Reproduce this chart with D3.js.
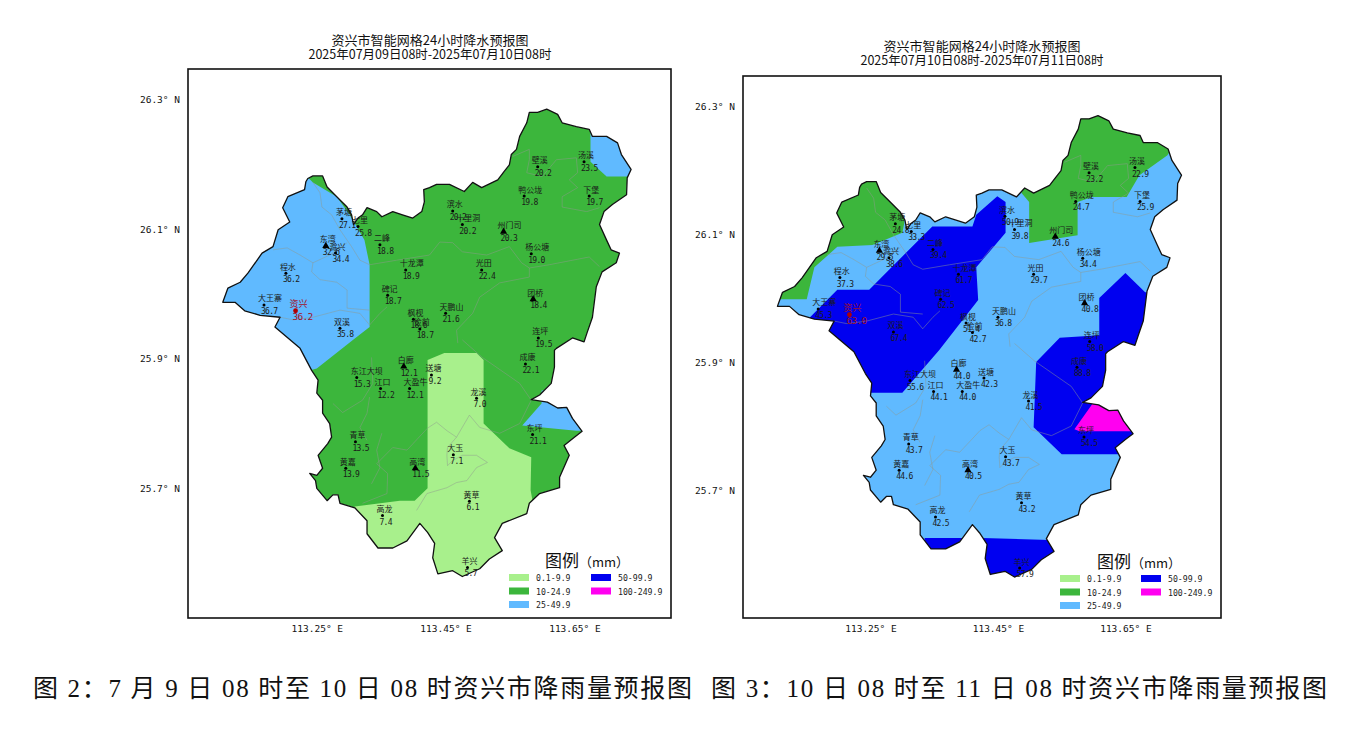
<!DOCTYPE html>
<html>
<head>
<meta charset="utf-8">
<script src="https://d3js.org/d3.v7.min.js"></script>
<style>
  body { margin: 0; background: #fff; }
  text { font-family: "Noto Sans CJK SC", sans-serif; }
  .num { font-family: "DejaVu Sans Mono", monospace; }
</style>
</head>
<body>
<svg id="chart" width="1348" height="737"></svg>
<script>
// County outline, lon/lat, clockwise from the north-west tip
const countyOutline = [[113.236,26.178],[113.244,26.182],[113.259,26.182],[113.266,26.165],[113.281,26.150],[113.297,26.134],[113.304,26.122],[113.307,26.107],[113.314,26.117],[113.321,26.122],[113.328,26.133],[113.343,26.127],[113.351,26.119],[113.368,26.127],[113.383,26.122],[113.399,26.117],[113.413,26.127],[113.417,26.142],[113.416,26.161],[113.425,26.164],[113.436,26.169],[113.456,26.169],[113.479,26.158],[113.492,26.172],[113.506,26.164],[113.531,26.176],[113.541,26.189],[113.549,26.199],[113.552,26.215],[113.560,26.223],[113.565,26.243],[113.576,26.264],[113.580,26.280],[113.593,26.280],[113.607,26.285],[113.624,26.277],[113.631,26.264],[113.653,26.258],[113.673,26.254],[113.678,26.243],[113.700,26.243],[113.717,26.233],[113.723,26.215],[113.738,26.192],[113.732,26.179],[113.731,26.153],[113.709,26.138],[113.696,26.127],[113.689,26.107],[113.700,26.083],[113.707,26.068],[113.720,26.063],[113.715,26.048],[113.693,26.034],[113.684,26.011],[113.678,25.964],[113.670,25.941],[113.665,25.926],[113.647,25.932],[113.622,25.916],[113.619,25.913],[113.619,25.887],[113.614,25.862],[113.596,25.844],[113.583,25.837],[113.608,25.833],[113.624,25.824],[113.638,25.825],[113.647,25.808],[113.662,25.788],[113.650,25.779],[113.634,25.766],[113.642,25.751],[113.627,25.717],[113.627,25.701],[113.596,25.692],[113.580,25.677],[113.576,25.661],[113.538,25.646],[113.526,25.624],[113.538,25.604],[113.518,25.591],[113.503,25.576],[113.476,25.564],[113.461,25.573],[113.438,25.568],[113.430,25.593],[113.433,25.615],[113.422,25.632],[113.410,25.646],[113.390,25.619],[113.368,25.608],[113.345,25.608],[113.328,25.630],[113.328,25.650],[113.309,25.670],[113.286,25.677],[113.283,25.690],[113.275,25.690],[113.266,25.681],[113.250,25.700],[113.248,25.712],[113.239,25.723],[113.250,25.720],[113.259,25.731],[113.252,25.751],[113.267,25.769],[113.273,25.779],[113.270,25.800],[113.259,25.816],[113.259,25.836],[113.250,25.847],[113.252,25.867],[113.242,25.882],[113.224,25.916],[113.185,25.949],[113.193,25.964],[113.162,25.967],[113.138,25.974],[113.123,25.987],[113.104,25.987],[113.112,26.009],[113.131,26.018],[113.143,26.032],[113.165,26.063],[113.182,26.073],[113.190,26.099],[113.208,26.111],[113.197,26.133],[113.205,26.150],[113.231,26.161],[113.233,26.173]];

// Township boundaries (the thin grey lines)
const townshipLines = [
  [[113.244,26.172],[113.255,26.156],[113.258,26.134],[113.273,26.122],[113.286,26.099],[113.297,26.083],[113.304,26.073],[113.317,26.052],[113.332,26.045]],
  [[113.182,26.068],[113.204,26.071],[113.224,26.060],[113.244,26.048],[113.270,26.060],[113.297,26.079]],
  [[113.244,26.048],[113.242,26.034],[113.255,26.022],[113.281,26.018],[113.297,26.006],[113.297,25.978],[113.332,25.975]],
  [[113.193,25.964],[113.213,25.960],[113.244,25.964],[113.286,25.975],[113.317,25.970],[113.332,25.952],[113.348,25.970],[113.359,25.980]],
  [[113.332,26.045],[113.374,26.052],[113.425,26.060],[113.441,26.080],[113.461,26.079],[113.476,26.065],[113.514,26.060],[113.549,26.073],[113.568,26.048],[113.580,26.040],[113.611,26.045],[113.673,26.057],[113.689,26.042]],
  [[113.580,26.040],[113.580,26.026],[113.534,26.017],[113.503,25.995],[113.492,25.970],[113.467,25.944],[113.469,25.924]],
  [[113.554,26.212],[113.580,26.223],[113.580,26.207],[113.576,26.187],[113.600,26.181],[113.622,26.207],[113.653,26.210],[113.655,26.187],[113.642,26.176],[113.655,26.164],[113.631,26.150],[113.631,26.134],[113.669,26.127],[113.689,26.133]],
  [[113.405,25.666],[113.421,25.692],[113.452,25.701],[113.467,25.709],[113.483,25.712],[113.498,25.732],[113.515,25.740],[113.498,25.751],[113.476,25.751],[113.461,25.743],[113.453,25.735],[113.452,25.751],[113.453,25.763],[113.467,25.779],[113.487,25.813],[113.503,25.794],[113.534,25.785],[113.565,25.800],[113.583,25.836]],
  [[113.467,25.779],[113.452,25.789],[113.436,25.802],[113.422,25.793],[113.390,25.759],[113.368,25.763],[113.343,25.738],[113.360,25.723],[113.359,25.692],[113.321,25.677]],
  [[113.335,25.902],[113.337,25.862],[113.321,25.836],[113.290,25.817],[113.275,25.831]],
  [[113.476,25.929],[113.507,25.902],[113.565,25.862],[113.583,25.836]],
  [[113.332,25.841],[113.328,25.816],[113.317,25.794],[113.328,25.774]],
  [[113.351,25.785],[113.343,25.759],[113.348,25.732],[113.335,25.707]]
];

// Rain zones, by legend class (they run past the outline and get clipped to it)
const day1BlueWest = [[113.069,26.192],[113.224,26.192],[113.244,26.172],[113.281,26.150],[113.301,26.122],[113.324,26.083],[113.332,26.045],[113.332,25.949],[113.306,25.929],[113.250,25.885],[113.069,25.836]];
const day1BlueNorth = [[113.675,26.269],[113.675,26.204],[113.700,26.181],[113.766,26.181],[113.766,26.269]];
const day1BlueEast = [[113.599,25.851],[113.599,25.831],[113.569,25.797],[113.653,25.789],[113.689,25.789],[113.689,25.851]];
const day1Light = [[113.422,25.898],[113.448,25.909],[113.498,25.909],[113.509,25.898],[113.509,25.800],[113.549,25.762],[113.583,25.748],[113.582,25.697],[113.585,25.681],[113.585,25.526],[113.286,25.526],[113.309,25.672],[113.379,25.681],[113.402,25.681],[113.422,25.700]];

const day2GreenWest = [[113.115,25.998],[113.150,25.998],[113.162,26.048],[113.198,26.080],[113.253,26.083],[113.300,26.102],[113.303,26.117],[113.303,26.231],[113.139,26.231],[113.076,25.998]];
const day2GreenNorth = [[113.487,26.164],[113.499,26.150],[113.499,26.086],[113.575,26.098],[113.575,26.150],[113.598,26.158],[113.652,26.158],[113.672,26.192],[113.716,26.223],[113.751,26.278],[113.609,26.325],[113.487,26.231]];
const day2NavyBand = [[113.347,26.112],[113.410,26.112],[113.416,26.130],[113.449,26.159],[113.462,26.150],[113.462,26.102],[113.416,26.048],[113.419,25.997],[113.358,25.919],[113.300,25.852],[113.201,25.852],[113.123,25.934],[113.154,25.969],[113.198,26.013],[113.248,26.013]];
const day2NavyEast = [[113.609,26.000],[113.650,26.039],[113.681,26.009],[113.719,26.009],[113.719,25.756],[113.550,25.756],[113.506,25.798],[113.510,25.900],[113.547,25.938],[113.609,25.942]];
const day2NavySouthA = [[113.335,25.625],[113.396,25.625],[113.396,25.559],[113.335,25.559]];
const day2NavySouthB = [[113.426,25.625],[113.531,25.622],[113.578,25.622],[113.578,25.528],[113.390,25.528]];
const day2Magenta = [[113.570,25.795],[113.597,25.833],[113.606,25.848],[113.672,25.848],[113.672,25.792],[113.578,25.792]];

// Stations
const stationNames = ["茅塘","七里","二峰","东湾","滁兴","程水","大王寨","资兴","双溪","十龙潭","碑记","枫枧","俭前","壁溪","汤溪","鸭公垅","下堡","滨水","十里洞","州门司","杨公塘","光田","团桥","天鹏山","连坪","成康","白廊","东江大坝","送塘","江口","大盈牛","龙溪","东坪","青草","大玉","黄嘉","高湾","黄草","高龙","羊兴"];
const stationLon = [113.289,113.314,113.348,113.264,113.279,113.202,113.168,113.217,113.286,113.388,113.360,113.400,113.410,113.593,113.665,113.572,113.673,113.461,113.476,113.540,113.583,113.506,113.586,113.450,113.594,113.574,113.385,113.312,113.428,113.349,113.394,113.498,113.585,113.310,113.462,113.295,113.403,113.487,113.352,113.484];
const stationLat = [26.116,26.104,26.076,26.074,26.063,26.032,25.983,25.974,25.947,26.037,25.998,25.961,25.946,26.196,26.204,26.151,26.151,26.128,26.107,26.096,26.062,26.037,25.992,25.970,25.932,25.892,25.888,25.871,25.875,25.854,25.854,25.839,25.783,25.772,25.752,25.731,25.731,25.680,25.658,25.578];
const day1Values = [27.1,25.8,18.8,32.6,34.4,36.2,36.7,36.2,35.8,18.9,18.7,18.6,18.7,20.2,23.5,19.8,19.7,20.2,20.2,20.3,19.0,22.4,18.4,21.6,19.5,22.1,12.1,15.3,9.2,12.2,12.1,7.0,21.1,13.5,7.1,13.9,11.5,6.1,7.4,5.7];
const day2Values = [24.8,33.3,39.4,29.5,38.6,37.3,45.3,63.0,67.4,61.7,62.5,51.4,42.7,23.2,22.9,24.7,25.9,50.9,39.8,24.6,34.4,29.7,40.8,36.8,58.0,88.8,44.0,55.6,42.3,44.1,44.0,41.5,54.5,43.7,43.7,44.6,40.5,43.2,42.5,57.9];
const triangleStations = ["东湾","州门司","团桥","白廊","高湾"];
const cityStation = "资兴";

// Legend and axes
const legendLabels = ["0.1-9.9","10-24.9","25-49.9","50-99.9","100-249.9"];
const legendColors = ["#a8f08c","#3cb63c","#60baff","#0000f0","#ff00f0"];
const lonTicks = [113.25,113.45,113.65];
const latTicks = [25.7,25.9,26.1,26.3];
const lonExtent = [113.05,113.80];
const latExtent = [25.5,26.347];

const panels = [
  { title: "2025年07月09日08时-2025年07月10日08时", left: 188, right: 671, top: 69, bottom: 618,
    titleX: 430, titleY: 45, values: day1Values, base: 1,
    zones: [[2,day1BlueWest],[2,day1BlueNorth],[2,day1BlueEast],[0,day1Light]],
    legendX: [509,591], legendTop: 574, legendTitleX: 545, legendTitleY: 567 },
  { title: "2025年07月10日08时-2025年07月11日08时", left: 743, right: 1221, top: 76, bottom: 618,
    titleX: 982, titleY: 51, values: day2Values, base: 2,
    zones: [[1,day2GreenWest],[1,day2GreenNorth],[3,day2NavyBand],[3,day2NavyEast],[3,day2NavySouthA],[3,day2NavySouthB],[4,day2Magenta]],
    legendX: [1060,1141], legendTop: 575, legendTitleX: 1097, legendTitleY: 568 }
];

const svg = d3.select("#chart");

panels.forEach((p, i) => {
  const x = d3.scaleLinear().domain(lonExtent).range([p.left, p.right]);
  const y = d3.scaleLinear().domain(latExtent).range([p.bottom, p.top]);
  const line = d3.line().x(d => x(d[0])).y(d => y(d[1]));
  const g = svg.append("g");

  // Clip everything inside the county
  g.append("clipPath").attr("id", "county" + i)
    .append("path").attr("d", line(countyOutline) + "Z");

  g.append("rect")
    .attr("x", p.left).attr("y", p.top)
    .attr("width", p.right - p.left).attr("height", p.bottom - p.top)
    .attr("fill", "#fff").attr("stroke", "#111").attr("stroke-width", 1.6);

  const map = g.append("g").attr("clip-path", "url(#county" + i + ")");
  map.append("path").attr("d", line(countyOutline) + "Z").attr("fill", legendColors[p.base]);
  p.zones.forEach(z => {
    map.append("path").attr("d", line(z[1]) + "Z").attr("fill", legendColors[z[0]]);
  });
  townshipLines.forEach(l => {
    map.append("path").attr("d", line(l)).attr("fill", "none")
      .attr("stroke", "#8f9a90").attr("stroke-opacity", 0.6).attr("stroke-width", 0.8);
  });

  g.append("path").attr("d", line(countyOutline) + "Z")
    .attr("fill", "none").attr("stroke", "#111").attr("stroke-width", 1.3)
    .attr("stroke-linejoin", "round");

  // Stations: names start just left of the point, values sit below it
  stationNames.forEach((name, k) => {
    const sx = x(stationLon[k]), sy = y(stationLat[k]);
    const isCity = name === cityStation;
    const color = isCity ? "#a0102a" : "#1a1a1a";
    if (triangleStations.includes(name)) {
      g.append("path").attr("d", d3.symbol(d3.symbolTriangle, 22)())
        .attr("transform", "translate(" + sx + "," + sy + ")").attr("fill", "#000");
    } else {
      g.append("circle").attr("cx", sx).attr("cy", sy)
        .attr("r", isCity ? 2.4 : 1.5).attr("fill", isCity ? "#b00000" : "#000");
    }
    g.append("text").attr("x", sx - 6).attr("y", sy - 3.5)
      .attr("fill", color)
      .style("font-size", isCity ? "9px" : "8px").text(name);
    g.append("text").attr("class", "num").attr("x", sx - 3).attr("y", sy + 9)
      .attr("fill", color)
      .style("letter-spacing", "-0.7px")
      .style("font-size", isCity ? "9.5px" : "8px").text(p.values[k].toFixed(1));
  });

  // Axes: labels only, no ticks
  const xAxis = d3.axisBottom(x).tickValues(lonTicks).tickSize(0).tickPadding(7)
    .tickFormat(d => d3.format(".2f")(d) + "° E");
  const yAxis = d3.axisLeft(y).tickValues(latTicks).tickSize(0).tickPadding(8)
    .tickFormat(d => d3.format(".1f")(d) + "° N");
  [[xAxis, "translate(0," + p.bottom + ")"], [yAxis, "translate(" + p.left + ",0)"]].forEach(a => {
    const ax = g.append("g").attr("transform", a[1]).call(a[0]);
    ax.select(".domain").remove();
    ax.selectAll("text").attr("class", "num").style("font-size", "9.5px").attr("fill", "#111");
  });

  // Title
  g.append("text").attr("x", p.titleX).attr("y", p.titleY).attr("text-anchor", "middle")
    .attr("textLength", 197).attr("fill", "#111").style("font-size", "13px")
    .text("资兴市智能网格24小时降水预报图");
  g.append("text").attr("x", p.titleX).attr("y", p.titleY + 14).attr("text-anchor", "middle")
    .attr("textLength", 243).attr("fill", "#111").style("font-size", "12.5px").text(p.title);

  // Legend
  const legendTitle = g.append("text").attr("x", p.legendTitleX).attr("y", p.legendTitleY)
    .attr("fill", "#111");
  legendTitle.append("tspan").style("font-size", "17px").text("图例");
  legendTitle.append("tspan").style("font-size", "13px").text("（mm）");
  legendLabels.forEach((label, k) => {
    const col = k < 3 ? 0 : 1;
    const row = k < 3 ? k : k - 3;
    const ly = p.legendTop + row * 13.5;
    g.append("rect").attr("x", p.legendX[col]).attr("y", ly).attr("width", 20).attr("height", 7)
      .attr("fill", legendColors[k]);
    g.append("text").attr("class", "num").attr("x", p.legendX[col] + 27).attr("y", ly + 7)
      .attr("fill", "#222").style("font-size", "8.2px").text(label);
  });
});

// Figure captions under the two maps
const captions = [
  { text: "图 2：7 月 9 日 08 时至 10 日 08 时资兴市降雨量预报图", x: 33, len: 659 },
  { text: "图 3：10 日 08 时至 11 日 08 时资兴市降雨量预报图", x: 711, len: 616 }
];
captions.forEach(c => {
  svg.append("text").attr("x", c.x).attr("y", 697)
    .attr("textLength", c.len).attr("lengthAdjust", "spacing")
    .attr("fill", "#111")
    .style("font-family", "'Liberation Serif','Noto Sans CJK SC',serif")
    .style("font-size", "25px").text(c.text);
});
</script>
</body>
</html>
